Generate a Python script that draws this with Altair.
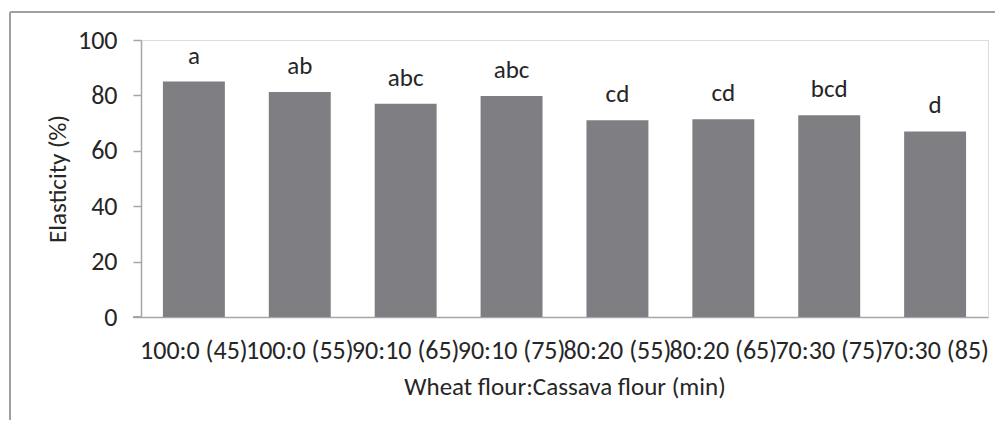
import altair as alt
import pandas as pd

categories = ["100:0 (45)", "100:0 (55)", "90:10 (65)", "90:10 (75)",
              "80:20 (55)", "80:20 (65)", "70:30 (75)", "70:30 (85)"]
values = [85.0, 81.2, 77.0, 79.8, 71.0, 71.4, 72.8, 67.0]
letters = ["a", "ab", "abc", "abc", "cd", "cd", "bcd", "d"]

df = pd.DataFrame({"cat": categories, "val": values, "lab": letters})

FONT = "Carlito, Lato, sans-serif"
TXT = "#262626"
AX = "#a6a6a6"
W, H = 847, 277
FS = 25

x = alt.X("cat:N", sort=categories,
          scale=alt.Scale(paddingInner=0.415, paddingOuter=0.207),
          axis=alt.Axis(title="Wheat flour:Cassava flour (min)", labelAngle=0,
                        ticks=False, tickSize=0, labelPadding=41,
                        labelBaseline="alphabetic", labelOverlap=False,
                        labelFont=FONT, labelFontSize=26, labelColor=TXT,
                        titleFont=FONT, titleFontSize=FS, titleColor=TXT,
                        titleFontWeight="normal", titleBaseline="alphabetic",
                        titleX=W / 2, titleY=77, titleAnchor="middle", titleAlign="center",
                        domainColor=AX, domainWidth=1.5))
y = alt.Y("val:Q", scale=alt.Scale(domain=[0, 100]),
          axis=alt.Axis(title="Elasticity (%)", values=[0, 20, 40, 60, 80, 100],
                        grid=False, tickSize=8, tickColor=AX, tickWidth=1.5,
                        labelPadding=16, labelFont=FONT, labelFontSize=26,
                        labelColor=TXT, titleFont=FONT, titleFontSize=FS,
                        titleColor=TXT, titleFontWeight="normal",
                        titleAngle=-90, titleBaseline="middle", titleAlign="center",
                        titleX=-84, titleY=H / 2, domainColor=AX, domainWidth=1.5))

bars = alt.Chart(df).mark_bar(color="#7f7f83").encode(x=x, y=y)
labels = alt.Chart(df).mark_text(font=FONT, fontSize=FS, color=TXT,
                                 baseline="alphabetic", dy=-18).encode(
    x=alt.X("cat:N", sort=categories), y="val:Q", text="lab:N")

frame_top = alt.Chart(df).mark_rule(color="#a0a0a0", strokeWidth=1.5).encode(
    x=alt.value(-131), x2=alt.value(854), y=alt.value(-28), y2=alt.value(-28))
frame_left = alt.Chart(df).mark_rule(color="#a0a0a0", strokeWidth=1.5).encode(
    x=alt.value(-131), x2=alt.value(-131), y=alt.value(-28), y2=alt.value(380))
xext = alt.Chart(df).mark_rule(color=AX, strokeWidth=1.5).encode(
    x=alt.value(-8), x2=alt.value(0), y=alt.value(H), y2=alt.value(H))

chart = alt.layer(frame_top, frame_left, bars, labels, xext).properties(
    width=W, height=H,
    autosize=alt.AutoSizeParams(type="none"),
    padding={"left": 133, "top": 32, "right": 7, "bottom": 103},
).configure_view(stroke=None).configure(background="white")

chart.save("out.html", embed_options={"renderer": "svg", "actions": False})
